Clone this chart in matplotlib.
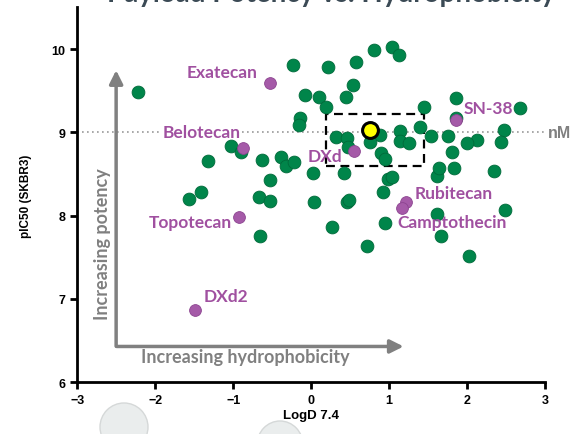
import matplotlib
matplotlib.use('Agg')
import matplotlib.pyplot as plt
from matplotlib.patches import Rectangle, Ellipse

# green: other payloads (LogD 7.4, pIC50)
green_x = [-2.22, -1.03, -0.90, -1.32, -0.63, -0.39, -0.32, -0.22, 0.02, 0.42,
           -0.53, -1.57, -1.41, -0.67, -0.53, 0.04, 0.46, 0.49, 0.92, 0.98,
           1.04, 1.61, 1.64, 1.83, 2.34, 1.81, 0.90, 0.95, 2.49, 1.61,
           1.67, 0.94, 0.27, 0.71, 2.02, -0.66, -0.23, -0.08, 0.10, 0.19,
           0.21, -0.14, -0.15, 0.44, 0.53, 0.58, 0.80, 1.04, 1.13, 1.44,
           1.86, 1.85, 2.68, 2.47, 2.43, 2.13, 2.00, 1.76, 1.53, 1.39,
           1.14, 1.14, 1.26, 0.88, 0.75, 0.32, 0.46, 0.47]
green_y = [9.48, 8.84, 8.77, 8.66, 8.67, 8.71, 8.60, 8.64, 8.51, 8.51,
           8.43, 8.20, 8.28, 8.23, 8.18, 8.17, 8.17, 8.19, 8.28, 8.44,
           8.47, 8.48, 8.57, 8.57, 8.54, 8.77, 8.75, 8.68, 8.07, 8.02,
           7.76, 7.91, 7.86, 7.64, 7.52, 7.76, 9.81, 9.45, 9.42, 9.30,
           9.78, 9.17, 9.09, 9.42, 9.57, 9.84, 9.99, 10.03, 9.93, 9.31,
           9.41, 9.17, 9.29, 9.03, 8.88, 8.91, 8.87, 8.96, 8.96, 9.06,
           9.02, 8.90, 8.87, 8.97, 8.88, 8.94, 8.93, 8.83]

# purple: named camptothecins
names = ['Exatecan', 'Belotecan', 'DXd', 'SN-38', 'Rubitecan', 'Camptothecin', 'Topotecan', 'DXd2']
named_x = [-0.53, -0.88, 0.55, 1.86, 1.22, 1.16, -0.92, -1.49]
named_y = [9.59, 8.81, 8.78, 9.15, 8.17, 8.09, 7.98, 6.87]

# yellow highlight
hl_x = [0.75]
hl_y = [9.03]

green = '#00854a'
purple = '#a55aa8'
grey = '#808080'

fig = plt.figure(figsize=(5.76, 4.35), dpi=100)
ax = fig.add_axes([0.1339, 0.1189, 0.8127, 0.8616])
ax.patch.set_alpha(0)

ax.axhline(9, color='#999999', ls=(0, (1, 2)), lw=1.2, zorder=0)

ax.scatter(green_x, green_y, s=85, c=green, edgecolors='#006a3a', linewidths=0.6, zorder=3)
ax.scatter(named_x, named_y, s=72, c=purple, edgecolors='#8c4490', linewidths=0.6, zorder=4)
ax.scatter(hl_x, hl_y, s=130, c='#ffff00', edgecolors='black', linewidths=2.2, zorder=5)

ax.add_patch(Rectangle((0.19, 8.60), 1.26, 0.62, fill=False, ec='black', lw=1.6,
                       ls=(0, (4, 2.5)), zorder=2))

# labels
lab = dict(color='#a050a0', fontsize=12.5, fontweight='bold', family='Lato')
ax.text(-0.69, 9.73, 'Exatecan', ha='right', va='center', **lab)
ax.text(-1.40, 9.01, 'Belotecan', ha='center', va='center',
        bbox=dict(facecolor='white', edgecolor='none', pad=0.5), zorder=1, **lab)
ax.text(-0.04, 8.72, 'DXd', ha='left', va='center', **lab)
ax.text(1.95, 9.29, 'SN-38', ha='left', va='center', **lab)
ax.text(1.32, 8.27, 'Rubitecan', ha='left', va='center', **lab)
ax.text(1.10, 7.93, 'Camptothecin', ha='left', va='center', **lab)
ax.text(-1.02, 7.92, 'Topotecan', ha='right', va='center', **lab)
ax.text(-1.38, 7.04, 'DXd2', ha='left', va='center', **lab)

# guide arrows
ax.annotate('', xy=(-2.50, 9.78), xytext=(-2.50, 6.40),
            arrowprops=dict(arrowstyle='-|>,head_length=0.8,head_width=0.4', color=grey, lw=2.5))
ax.annotate('', xy=(1.22, 6.43), xytext=(-2.53, 6.43),
            arrowprops=dict(arrowstyle='-|>,head_length=0.8,head_width=0.4', color=grey, lw=2.5))
ax.text(-2.67, 7.67, 'Increasing potency', rotation=90, ha='center', va='center',
        color=grey, fontsize=13, fontweight='bold', family='Lato')
ax.text(-0.84, 6.31, 'Increasing hydrophobicity', ha='center', va='center',
        color=grey, fontsize=13, fontweight='bold', family='Lato')

ax.text(3.03, 9.0, 'nM', ha='left', va='center', color=grey, fontsize=11.5,
        fontweight='bold', family='Liberation Sans', clip_on=False)

ax.set_xlim(-3, 3)
ax.set_ylim(6, 10.5)
ax.set_xticks([-3, -2, -1, 0, 1, 2, 3])
ax.set_yticks([6, 7, 8, 9, 10])
for s in ['top', 'right']:
    ax.spines[s].set_visible(False)
for s in ['left', 'bottom']:
    ax.spines[s].set_linewidth(2)
ax.tick_params(width=2, length=5, labelsize=9)
for t in ax.get_xticklabels() + ax.get_yticklabels():
    t.set_fontweight('bold')
    t.set_family('Liberation Sans')
ax.set_xlabel('LogD 7.4', fontsize=9.5, fontweight='bold', family='Liberation Sans', labelpad=2)
ax.set_ylabel('pIC50 (SKBR3)', fontsize=8.5, fontweight='bold', family='Liberation Sans', labelpad=14)

# clipped slide title and decorative circles behind the axes
fig.text(0.575, 1 - 2 / 435, 'Payload Potency vs. Hydrophobicity', ha='center', va='baseline',
         color='#3b4a55', fontsize=20, fontweight='bold', family='Lato')
fig.add_artist(Ellipse((124 / 576, 1 - 428 / 435), 48 / 576, 48 / 435, transform=fig.transFigure,
                       fc='#eaeded', ec='#d5d8d8', lw=1, zorder=-1))
fig.add_artist(Ellipse((280 / 576, 1 - 446 / 435), 46 / 576, 48 / 435, transform=fig.transFigure,
                       fc='#eaeded', ec='#d5d8d8', lw=1, zorder=-1))

fig.savefig('out.png', dpi=100)
